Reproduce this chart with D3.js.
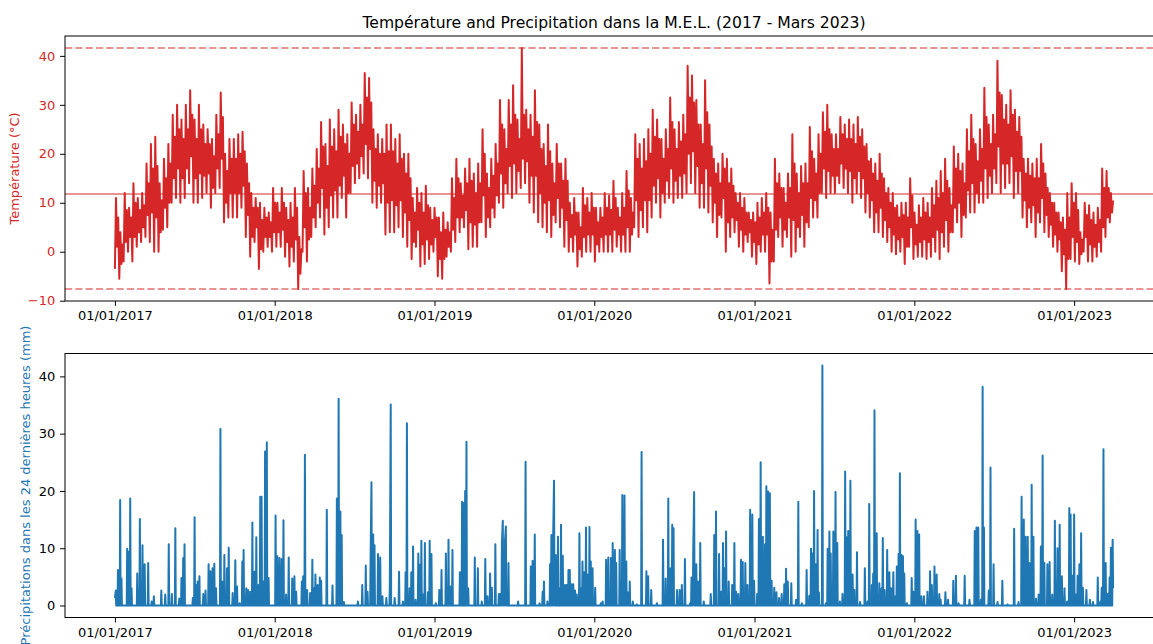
<!DOCTYPE html>
<html><head><meta charset="utf-8">
<script src="https://cdn.jsdelivr.net/npm/d3@7"></script>
<style>
body{margin:0;background:#fff;overflow:hidden;}
svg{display:block;font-family:"DejaVu Sans",sans-serif;}
</style>
</head><body>
<svg id="chart" width="1153" height="644"></svg>
<script>
// ---------------- DATA ----------------
const startDate = "2017-01-01";
const endDate = "2023-03-31";

// Temperature readings (°C), evenly spaced in time from startDate to endDate.
// Each ~10-day stretch: lowest, highest, then typical low and typical high.
const temperature = [
 -3.5,11,1,7, -5.5,4,-2.5,1.5, -2,12,2,8.5, 0,9,3,7, -2,14,3,10, 1,11,4,8.5, 2,12,5,9.5, 3,18,7.5,14, 2,22,8,17, 0,23.5,7,17.5,
 0,14,4,10.5, 4.5,19,9,15, 5,22,10,18, 10,28,15,23.5, 11,30,17,25, 10,27,15,23, 11,30,17,25, 14,33,19.5,28, 10,27,15,23, 10,30,16,25,
 11,26,15.5,22, 12,25,16,22, 9,23,13,19.5, 12,28,17,24, 13,32.5,19,27.5, 6,20,10,16.5, 7,23,12,19, 7,23,12,19, 7,24,12,20, 9,24.5,13.5,20.5,
 3,18,7.5,14, -1,12,3,9, 2,11,5,9, -3.5,10,0.5,6.5, 0,9,3,7, 1,8,3,6, 0,13,4,10, 1,10,4,8, 1,13,4.5,10, -1,9,2,6.5,
 -3,10,1,7, -2,13,2.5,9, -7.6,3,-4.5,0.5, 0,16.5,5,12, -2,13,2.5,9, 3,17,7,13.5, 5,21,10,17, 7,26.5,13,21.5, 3.5,22,9,17.5, 5,27,11.5,21.5,
 7,25,12.5,20.5, 7,29,13.5,23.5, 11,26,15.5,22, 7,24,12,20, 12,30.5,17.5,26, 14,28,18,24.5, 15,30,19.5,26, 16,36.5,22,31.5, 15,35.5,21,30.5, 10,25,14.5,21,
 9,24,13.5,20, 10,23,14,20, 3.5,26,10,20.5, 4,26,10.5,20.5, 4,23,9.5,18, 5,24,10.5,19, 3,20,8,16, 1,20,6.5,15, -1.5,11,2,8, 1,13,4.5,10,
 -3,12,1.5,8, -2.5,13.5,2.5,9.5, -1.5,9,1.5,6.5, 0,9,3,7, -5,7,-1.5,4, -5.5,8,-1.5,4.5, -1,6,1,4, 0,15,4.5,11, 2,19,7,15, 4,14,7,11.5,
 5,17,8.5,14, 0.5,19,6,14.5, 1,16,5.5,12, 1,18,6,14, 6,25,11.5,20, 3,16,7,13, 5,19,9,15.5, 7,22,11.5,18, 10,31,16,26, 9,25,14,21,
 12,31,17.5,26, 11,34,18,28, 12,27,16.5,23, 13,41.6,19,28, 14,29,18.5,25, 10,28,15.5,23.5, 8,33,15.5,26.5, 6,26,12,21, 5,22,10,17.5, 4,26,10.5,20.5,
 3,18,7.5,14, 6,22,11,18, 5,18,9,14.5, 1,19,6.5,14.5, 0,10,3,7.5, 0,11,3.5,8, -3,8,0.5,5, -1,13,3,9.5, 0,11,3.5,8, 0,12,3.5,9,
 -2,9,1.5,6, 0,9,3,7, 0,12,3.5,9, 0,11.5,3.5,8.5, 0,14.5,4.5,11, 1,9,3.5,7, 0,12,3.5,9, 0,16.5,5,12.5, 0,11,3.5,8, 5,24,10.5,19,
 3,22,8.5,17, 5,23,10.5,18.5, 4,25,10.5,20, 7,29,13.5,23.5, 10,27,15,23, 7,23,12,19, 10,25,14.5,21, 11,31.5,17,26.5, 10,25,14.5,21, 11,26.5,15.5,22.5,
 11,28,16,24, 12,38,20,31.5, 14,36,20.5,30.5, 12,31,17.5,26, 9,26,14,22, 9,35,17,28.5, 8,26,13.5,21.5, 6,19,10,16, 3,18,7.5,14, 7,20,11,17,
 0,19,6,14, 3,17,7,13.5, 4,12,6.5,10, 1,12,4.5,9, 0,11,3.5,8, 2,8,4,6.5, -1,8,2,6, -2.5,10,1.5,7, 0,11,3.5,8, 0,12,3.5,9,
 -6.5,8,-2,4.5, -2,19,4.5,14, 3,16,7,13, 1,13,4.5,10, 3,16,7,13, -1,24,6.5,18, 0,16,5,12, 3,17.5,7.5,14, 1,18,6,14, 5,25.5,11,20.5,
 7,19,10.5,16, 7,24,12,20, 12,28.5,17,24.5, 11,30,16.5,25, 12,24,15.5,21, 12,24,15.5,21, 14,27.5,18,24, 13,26,17,23, 12,27,16.5,23, 10,26,15,22,
 12,27.5,16.5,23.5, 11,25,15,21.5, 8,22,12,18.5, 7,19,10.5,16, 4,18,8,14.5, 4,20,9,16, 3,15,6.5,12, 2,13,5,10, 0,12,3.5,9, -0.5,9.5,2.5,7,
 0,10,3,7.5, -2.5,10,1,7, 1,15,5,11.5, -1.5,8,1.5,5.5, -1,9.5,2,7, -1,11,2.5,8, -1.5,10,2,7, -1,13,3,9.5, 0,14.5,4.5,11, -1.5,16.5,4,12,
 1,19,6.5,14.5, 0,13,4,9.5, 4,21.5,9,17, 6,20,10,16.5, 3,18,7.5,14, 7,25,12.5,20.5, 8,28,14,23, 8,22,12,18.5, 10,25,14.5,21, 10,33.5,17,27.5,
 11,26,15.5,22, 12,28,17,24, 14,39,21.5,32.5, 12,32,18,27, 13,30,18,26, 14,33,19.5,28, 11,29,16.5,24.5, 12,27.5,16.5,23.5, 7,19,10.5,16, 5,19,9,15.5,
 6,18,9.5,15, 3,19,8,15, 6,22,11,18, 4,16,7.5,13, 3,12,5.5,10, 1,10,3.5,8, 0,8,2.5,6, -4,7,-0.5,4.5, -7.6,12,-1.5,7, -1.5,14,3,10,
 -2,12,2,8.5, -2.5,4,-0.5,2.5, 0,10,3,7.5, -2,9.5,1.5,6.5, -2,8,1,5.5, -1,9,2,6.5, 0,17,5,13, 3,16.5,7,13, 6,12,8,10.5
];
const tempMean = 11.8;

// Precipitation over the last 24 h (mm): rainy days (days after startDate) and amounts
const precipDay = [
 0,2,7,12,15,28,31,35,38,51,57,63,68,76,84,89,106,115,123,130,138,147,152,156,159,178,182,185,189,193,
 202,207,214,218,223,227,231,241,245,250,256,260,269,275,279,285,291,294,300,304,309,314,319,323,328,332,335,339,343,347,
 351,367,371,376,381,385,391,397,405,410,414,427,430,434,439,446,451,455,458,463,468,471,484,497,507,511,515,518,523,555,
 565,573,577,584,586,590,593,601,606,611,620,628,630,639,649,658,664,667,673,677,681,687,693,696,700,704,708,715,719,723,
 733,741,746,756,762,766,771,788,793,797,800,803,807,822,829,838,846,851,857,861,869,877,880,884,886,891,893,899,921,938,
 950,954,959,970,977,980,988,994,997,1001,1003,1007,1012,1015,1019,1023,1028,1032,1036,1039,1043,1047,1051,1055,1061,1065,1068,1072,1076,1079,
 1084,1087,1091,1097,1110,1114,1122,1127,1133,1137,1142,1145,1153,1159,1164,1168,1171,1176,1183,1192,1203,1214,1218,1225,1238,1252,1258,1264,1269,1273,
 1276,1284,1290,1295,1302,1314,1317,1321,1323,1328,1332,1337,1345,1361,1369,1373,1380,1384,1389,1393,1396,1402,1410,1415,1419,1424,1430,1434,1440,1445,
 1451,1456,1460,1467,1471,1475,1480,1485,1488,1492,1496,1500,1506,1511,1517,1523,1529,1533,1537,1545,1556,1561,1569,1580,1586,1590,1593,1597,1601,1605,
 1608,1616,1624,1628,1632,1635,1641,1646,1650,1656,1662,1668,1672,1675,1680,1685,1689,1695,1702,1713,1719,1723,1729,1732,1735,1740,1746,1751,1754,1758,
 1764,1769,1773,1778,1783,1786,1790,1793,1797,1800,1803,1809,1820,1824,1829,1833,1837,1842,1848,1856,1862,1866,1872,1877,1883,1886,1897,1903,1915,1921,
 1927,1941,1952,1964,1968,1972,1978,1982,1985,1996,2000,2007,2016,2027,2039,2054,2064,2071,2076,2080,2085,2089,2094,2098,2104,2110,2115,2119,2123,2130,
 2135,2141,2147,2150,2153,2158,2163,2169,2175,2180,2183,2187,2191,2195,2199,2203,2207,2211,2219,2227,2234,2245,2251,2254,2258,2263,2268,2272,2275,2279,
 2280
];
const precipMm = [
 1.3,2.6,6.2,18.4,4.7,9.9,9.4,18.7,3,5.6,15.1,10.5,7.2,7.4,0.7,1.6,2.6,1.9,10.7,2,13.5,1.2,4.8,8.3,10.7,1.3,15.4,3.6,4.2,5.1,
 2,2.6,7.2,6,6.5,7.3,3,30.8,4.2,8.8,6.5,10.1,2.2,7.9,3.3,0.4,7.7,9.7,3,2.7,2.4,14.5,5.9,11.9,3.6,19,19,4.2,26.9,28.5,
 4.8,15.7,8.6,8.3,8.1,14.9,1.9,8.4,4.7,5.1,2.4,4.2,5.1,26.3,2.7,2.2,8,3,5.4,3.6,4.9,4.3,16.7,3.5,18.7,36.1,16.4,12.3,0.6,0.7,
 3.6,7,2.4,8,21.5,12.4,10.5,9,8.4,1.6,1.3,3.7,35.1,1.3,5.9,0.7,5.8,31.8,3,5.8,10.3,1,9.1,7.1,11.3,1.9,10.9,2.3,11.3,9,
 0.4,2.7,6.2,9.1,11.5,3.3,9.7,5.8,18.1,17.9,20,28.6,3,8.4,6.5,0.7,8.1,1.6,5.6,3.1,10.7,2,2,10.9,14.8,11.3,13.8,7.4,0.7,25.1,
 6.8,7.8,12.4,0.4,2.4,4.2,0.7,7.2,12.3,11.9,21.8,8.8,12,3,14.1,8.7,3.6,3.6,6.2,6.2,3.7,3.7,2.6,1.9,12.6,3,7.7,5.8,13.6,5.4,
 13.7,7.7,6.5,3.1,0.4,0.7,8,8.4,8.3,10.9,9.7,7.4,9.7,19.3,19.2,7.7,2.3,4.2,0.7,0.2,26.8,6,5.1,2.7,0.4,11.5,4.7,18.7,6.5,14.1,
 13.5,2.7,2.7,3.6,8.1,0.4,4.9,9.4,19.8,7.2,4.2,10.9,0.7,2,12.3,16.4,9,2.4,10.9,6.5,12.9,4.2,3.6,10.9,2.4,2,8,7.6,7.4,3.6,
 16.7,15.9,4.3,2,15.1,25,12,10.7,20.8,19.9,19.6,4.3,3.1,2.3,1.3,2,3.7,6.4,4.2,3.9,1,18.1,0.4,6.2,1.7,9.9,9.1,20,7.2,13.2,
 2.3,41.9,0.4,9.9,12.9,9.1,12.9,19.8,10.9,0.7,2,23.4,11.9,13,21.8,5.4,2.7,9.3,0.6,6.5,0.7,17.7,3.6,5.6,34.1,12.6,3.9,3,11.8,2.7,
 9.7,5.8,3,5.8,1.6,6.8,9,23.1,8.8,8.6,5.6,0.4,4.8,2.4,15,13,12.4,1.6,1.6,2.4,6,3.6,6.8,5.4,2,1,2.3,1,4.3,5.2,
 0.4,5.2,1,13,13.6,13.6,1,38.2,13.6,2.6,24.1,7.2,0.6,4.3,0.2,13.4,0.6,19,15,12,12,7.4,21.1,12,1.2,1.9,10.3,26.2,7.4,7.2,
 7.6,1.9,14.8,3,10,14.1,5.1,3,0.7,17,15.9,5.2,15.9,1.9,5.2,7.2,12.6,3.1,2.7,1,0.6,4.9,0.7,3.1,27.3,7.4,2,4.9,10.1,11.5,
 3
];

const xTickDates = ["2017-01-01","2018-01-01","2019-01-01","2020-01-01","2021-01-01","2022-01-01","2023-01-01"];
const tempTicks = [-10,0,10,20,30,40];
const precipTicks = [0,10,20,30,40];

const titleText = "Température and Precipitation dans la M.E.L. (2017 - Mars 2023)";
const tempLabel = "Température (°C)";
const precipLabel = "Précipitations dans les 24 dernières heures (mm)";

// ---------------- DRAWING ----------------
const RED = "#d62728", BLUE = "#1f77b4";
const svg = d3.select("#chart");
svg.append("rect").attr("width",1153).attr("height",644).attr("fill","#fff");

const X0 = 65, X1 = 1163;
const T1 = 36, B1 = 301, T2 = 353.5, B2 = 617.5;
const DAY = 864e5;
const parse = d3.utcParse("%Y-%m-%d");
const t0 = parse(startDate).getTime(), t1 = parse(endDate).getTime();
const padT = (t1 - t0) * 0.05;
const x = d3.scaleUtc().domain([new Date(t0 - padT), new Date(t1 + padT)]).range([X0, X1]);

const n = temperature.length;
const tempData = temperature.map((v,i) => ({date: new Date(t0 + i*(t1 - t0)/(n-1)), v}));
const tMin = d3.min(temperature), tMax = d3.max(temperature);
const tPad = (tMax - tMin) * 0.05;
const y1 = d3.scaleLinear().domain([tMin - tPad, tMax + tPad]).range([B1, T1]);

// precipitation series: dry days on both sides of each rainy spell are 0 mm
const pData = [];
precipDay.forEach((d,i) => {
  if ((i === 0 || d - precipDay[i-1] > 2) && d - 1 >= 0) pData.push({date: new Date(t0 + (d-1)*DAY), v: 0});
  pData.push({date: new Date(t0 + d*DAY), v: precipMm[i]});
  if (i < precipDay.length-1 && precipDay[i+1] - d > 2) pData.push({date: new Date(t0 + (d+1)*DAY), v: 0});
});
const pMax = d3.max(precipMm), pMin = 0;
const pPad = (pMax - pMin) * 0.05;
const y2 = d3.scaleLinear().domain([pMin - pPad, pMax + pPad]).range([B2, T2]);

const defs = svg.append("defs");
defs.append("clipPath").attr("id","c1").append("rect").attr("x",X0).attr("y",T1).attr("width",X1-X0).attr("height",B1-T1);
defs.append("clipPath").attr("id","c2").append("rect").attr("x",X0).attr("y",T2).attr("width",X1-X0).attr("height",B2-T2);

// temperature line
svg.append("path").datum(tempData).attr("clip-path","url(#c1)")
  .attr("fill","none").attr("stroke",RED).attr("stroke-width",2).attr("stroke-linejoin","round")
  .attr("d", d3.line().x(d => x(d.date)).y(d => y1(d.v)));

// reference lines: max, min (dashed), mean (solid)
const hl = svg.append("g").attr("clip-path","url(#c1)");
[[tMax,"7.2,3.1"],[tMin,"7.2,3.1"],[tempMean,null]].forEach(([val,dash]) => {
  const l = hl.append("line").attr("x1",X0).attr("x2",X1).attr("y1",y1(val)).attr("y2",y1(val))
    .attr("stroke",RED).attr("stroke-opacity",0.5).attr("stroke-width",2);
  if (dash) l.attr("stroke-dasharray",dash);
});

// precipitation line
svg.append("path").datum(pData).attr("clip-path","url(#c2)")
  .attr("fill","none").attr("stroke",BLUE).attr("stroke-width",2).attr("stroke-linejoin","round")
  .attr("d", d3.line().x(d => x(d.date)).y(d => y2(d.v)));

// axes
const xt = xTickDates.map(parse);
function styleAxis(g, color){
  g.select(".domain").remove();
  g.selectAll(".tick line").attr("stroke","#000").attr("stroke-width",1);
  g.selectAll(".tick text").attr("fill",color).attr("font-size","13px").attr("font-family","DejaVu Sans");
}
[B1, B2].forEach(b => {
  svg.append("g").attr("transform",`translate(0,${b})`)
    .call(d3.axisBottom(x).tickValues(xt).tickFormat(d3.utcFormat("%d/%m/%Y")).tickSize(4.9).tickPadding(4.9).tickSizeOuter(0))
    .call(g => styleAxis(g,"#000"));
});
svg.append("g").attr("transform",`translate(${X0},0)`)
  .call(d3.axisLeft(y1).tickValues(tempTicks).tickFormat(d3.format("d")).tickSize(4.9).tickPadding(4.9).tickSizeOuter(0))
  .call(g => styleAxis(g,RED));
svg.append("g").attr("transform",`translate(${X0},0)`)
  .call(d3.axisLeft(y2).tickValues(precipTicks).tickFormat(d3.format("d")).tickSize(4.9).tickPadding(4.9).tickSizeOuter(0))
  .call(g => styleAxis(g,"#000"));

// frames
svg.append("rect").attr("x",X0).attr("y",T1).attr("width",X1-X0).attr("height",B1-T1).attr("fill","none").attr("stroke","#000").attr("stroke-width",1);
svg.append("rect").attr("x",X0).attr("y",T2).attr("width",X1-X0).attr("height",B2-T2).attr("fill","none").attr("stroke","#000").attr("stroke-width",1);

// labels
svg.append("text").attr("x",(X0+X1)/2).attr("y",28).attr("text-anchor","middle")
  .attr("font-size","15.6px").attr("fill","#000").text(titleText);
svg.append("text").attr("transform",`translate(19,${(T1+B1)/2}) rotate(-90)`).attr("text-anchor","middle")
  .attr("font-size","13px").attr("fill",RED).text(tempLabel);
svg.append("text").attr("transform",`translate(30,${(T2+B2)/2}) rotate(-90)`).attr("text-anchor","middle")
  .attr("font-size","13px").attr("fill",BLUE).text(precipLabel);
</script>
</body></html>
